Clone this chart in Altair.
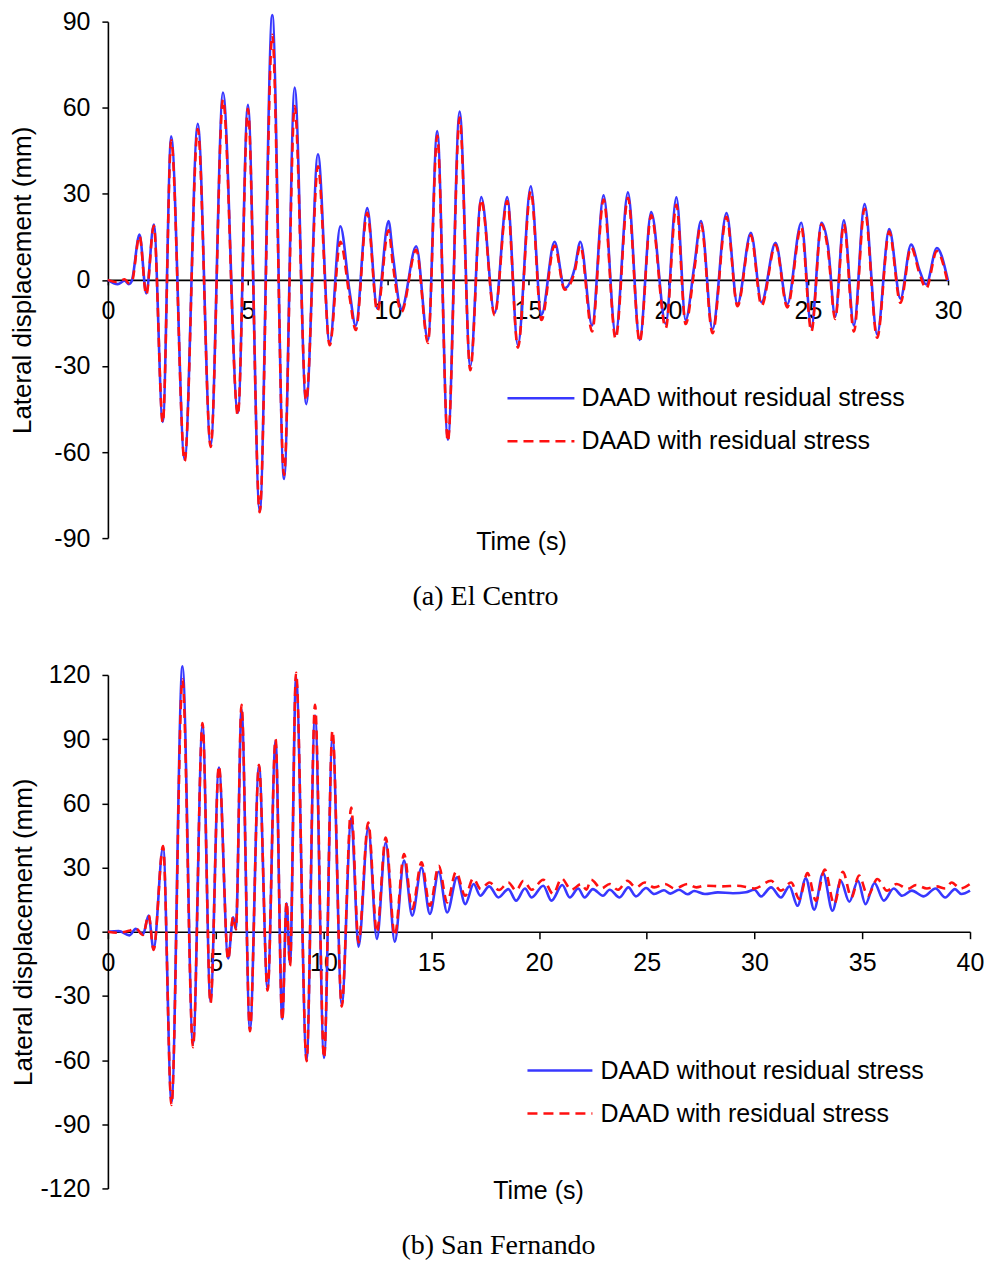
import altair as alt
import pandas as pd

# ---------------- data ----------------
# (a) El Centro
a_blue_t = [0, 0.35, 0.6, 0.75, 0.85, 1.13, 1.37, 1.64, 1.96, 2.26, 2.74, 3.21, 3.67, 4.11, 4.64, 5.0,
            5.42, 5.87, 6.29, 6.67, 7.08, 7.5, 7.92, 8.3, 8.63, 8.85, 9.26, 9.62, 10.02, 10.18, 10.48,
            11.01, 11.43, 11.76, 12.14, 12.56, 12.94, 13.33, 13.81, 14.26, 14.64, 15.1, 15.48, 15.95,
            16.31, 16.67, 16.87, 17.29, 17.7, 18.13, 18.57, 18.99, 19.4, 19.92, 20.3, 20.63, 20.94,
            21.18, 21.59, 22.09, 22.48, 22.96, 23.34, 23.84, 24.26, 24.76, 25.12, 25.48, 25.71, 25.97,
            26.28, 26.64, 27.02, 27.47, 27.9, 28.3, 28.68, 28.98, 29.22, 29.6, 30.0]
a_blue_v = [0, -1.5, -0.3, -1.5, -0.5, 15.8, -4.7, 19.3, -49.5, 50, -62.6, 54.4, -57.6, 65.3, -46.4, 61,
            -80.6, 92.3, -69.4, 67, -43.3, 43.8, -22.1, 18.7, -4, -16, 25, -10, 20.5, 8.3, -10.3,
            11.7, -20.9, 51.9, -55.7, 58.7, -30.2, 28.9, -11.6, 28.9, -22.8, 32.6, -12.2, 13.3,
            -2.9, 4, 13.3, -15.9, 29.5, -19, 30.5, -20.9, 23.6, -15.3, 28.8, -14, 5,
            20.5, -17.2, 23.3, -8.5, 16.4, -7.8, 12.9, -8.5, 19.9, -16.5, 19.9, 12, -12.8,
            20.8, -15.9, 26.4, -19, 17.7, -6.6, 12.3, 3.4, -1.6, 11.1, -0.4]
a_red_t = a_blue_t
a_red_v = [0, -0.8, 0.2, -1.2, -0.8, 15.3, -5.2, 18.8, -49.8, 48.6, -63.2, 52.6, -58.2, 62.8, -47.2, 59.6,
           -81.0, 85.4, -68.0, 60.6, -42.0, 39.6, -22.8, 13.3, -6, -17.5, 23.4, -11, 17.3, 5, -11.2,
           10.5, -22.0, 50.2, -56.3, 56.6, -31.5, 28.0, -12.3, 27.5, -23.6, 31.0, -14.0, 12.0,
           -3.4, 3, 12.0, -18.0, 28.0, -20.5, 28.6, -21.6, 22.5, -16.8, 26.2, -15.4, 3.5,
           19.5, -18.6, 22.0, -9.2, 15.5, -9.0, 12.2, -9.6, 18.5, -18.0, 19.4, 10.5, -13.6,
           19.5, -18.0, 24.8, -20.2, 16.8, -8.0, 11.4, 2.2, -3.0, 10.0, -1.6]

# (b) San Fernando
b_blue_t = [0, 0.5, 1.0, 1.29, 1.63, 1.89, 2.12, 2.56, 2.95, 3.46, 3.95, 4.39, 4.76, 5.15, 5.58, 5.81,
            5.94, 6.2, 6.59, 7.01, 7.41, 7.78, 8.09, 8.29, 8.45, 8.73, 9.22, 9.61, 10.03, 10.42, 10.85,
            11.29, 11.63, 12.08, 12.48, 12.89, 13.31, 13.74, 14.12, 14.55, 14.94, 15.35, 15.74, 16.2,
            16.58, 16.97, 17.28, 17.69, 18.12, 18.58, 18.94, 19.35, 19.66, 20.2, 20.58, 21.08, 21.43,
            21.82, 22.12, 22.5, 22.97, 23.28, 23.74, 24.15, 24.5, 24.97, 25.35, 25.8, 26.1, 26.5, 26.9,
            27.2, 27.7, 28.3, 29.0, 29.6, 30.0, 30.3, 30.77, 31.23, 31.62, 32.0, 32.38, 32.77, 33.18,
            33.62, 34.0, 34.4, 34.8, 35.15, 35.57, 36.0, 36.46, 36.85, 37.3, 37.85, 38.4, 38.85, 39.3,
            39.6, 40.0]
b_blue_v = [0, 0.3, -1.7, 1.3, -1.2, 7.5, -8.3, 39.5, -79.5, 124, -52.5, 96.7, -32.5, 76.7, -12.5, 6.7,
            1.7, 104, -45.8, 77.5, -26.7, 89.2, -40.8, 13.3, -15, 119, -60, 101, -59, 91, -34,
            53, -7, 48.8, -3.4, 41.7, -4.7, 33.2, 7.5, 30, 8.3, 28, 9, 25.4,
            12.9, 22.3, 16.8, 21.2, 16, 19.9, 14.5, 20.2, 16, 21.5, 14.5, 21.8, 16,
            20.2, 16, 19.9, 16.8, 19.6, 16, 20.7, 16.5, 20.4, 17.6, 19.4, 17.8, 19.6, 17.5,
            19, 17.6, 18.4, 18.0, 18.4, 19.6, 16.5, 20.7, 16, 21.2, 12.1, 24.9, 10.3, 27.4,
            9.8, 23.8, 14, 23.8, 12.9, 22.7, 14.5, 20.2, 16.8, 19.2, 16.5, 20.2, 16, 19.9,
            17.6, 19.2]
b_red_t = [0, 0.5, 1.0, 1.29, 1.63, 1.89, 2.12, 2.56, 2.95, 3.46, 3.95, 4.39, 4.76, 5.15, 5.58, 5.81,
           5.94, 6.2, 6.59, 7.01, 7.41, 7.78, 8.09, 8.29, 8.45, 8.73, 9.22, 9.61, 10.03, 10.42, 10.85,
           11.29, 11.63, 12.08, 12.48, 12.89, 13.31, 13.74, 14.12, 14.55, 14.94, 15.35, 15.74, 16.15,
           16.58, 16.95, 17.3, 17.7, 18.15, 18.58, 18.94, 19.28, 19.66, 20.2, 20.66, 21.05, 21.5,
           21.97, 22.2, 22.42, 22.89, 23.28, 23.66, 24.1, 24.5, 24.9, 25.35, 25.85, 26.3, 26.9, 27.3,
           27.7, 28.5, 29.2, 30.0, 30.77, 31.23, 31.7, 32.08, 32.46, 32.85, 33.26, 33.7, 34.1, 34.5,
           34.85, 35.26, 35.7, 36.15, 36.6, 37.1, 37.5, 38.0, 38.45, 38.85, 39.15, 39.55, 40.0]
b_red_v = [0, -0.5, 0.5, 1.5, -1.5, 7.8, -8.5, 40, -81, 118, -54, 97.5, -33.5, 77.5, -13, 7,
           1, 106, -46.5, 78, -27.5, 90, -41.5, 14, -16, 121, -60.5, 106, -59, 94, -35,
           58, -5, 51, -0.3, 44, -1.9, 36.3, 10.6, 32.4, 12.1, 30.8, 13.7, 28,
           16.8, 24.9, 19.9, 23, 19.5, 23, 19.2, 23.8, 19.6, 24.3, 17.6, 24.9, 19.6,
           22.3, 19.6, 24.3, 20.2, 22.3, 19.6, 23.8, 20.7, 23, 20.7, 22.3, 20.2, 22.3, 20.7,
           21.5, 21.2, 21.5, 20.2, 23.8, 19.2, 23, 15.3, 27.4, 14.5, 29, 12.9, 28, 16,
           26.2, 16.8, 24.6, 19.2, 22.3, 20, 21.8, 20.2, 21.2, 20.2, 23, 20.2, 22.3]

legend_labels = ["DAAD without residual stress", "DAAD with residual stress"]
x_label = "Time (s)"
y_label = "Lateral displacement (mm)"
captions = ["(a) El Centro", "(b) San Fernando"]

BLUE = "#3838ff"
RED = "#ff1010"
SANS = "Liberation Sans"
SERIF = "Liberation Serif"
FS = 25
PLAIN = "'' + datum.value"


def one(text):
    return alt.Data(values=[{"label": text}])


def panel(bt, bv, rt, rv, xmax, ylim, xticks, yticks, w, h, tick_x, lab_pad_x,
          title_pad, time_xy, cap_xy, leg_x, leg_y, caption):
    xenc = alt.X("t:Q",
                 scale=alt.Scale(domain=[0, xmax], nice=False, zero=False),
                 axis=alt.Axis(values=xticks, orient="bottom", offset=-h / 2, title=None,
                               labelExpr=PLAIN,
                               labelFontSize=FS, labelFont=SANS, labelColor="black",
                               labelPadding=lab_pad_x, labelFlush=False, labelOverlap=False,
                               tickSize=tick_x, tickColor="black", tickWidth=1.5,
                               domainColor="black", domainWidth=1.6, grid=False))
    yenc = alt.Y("v:Q",
                 scale=alt.Scale(domain=[-ylim, ylim], nice=False, zero=False),
                 axis=alt.Axis(values=yticks, title=y_label, titleFont=SANS, titleFontSize=26,
                               titleFontWeight="normal", titleColor="black", titlePadding=title_pad,
                               labelExpr=PLAIN,
                               labelFontSize=FS, labelFont=SANS, labelColor="black",
                               labelPadding=12, labelOverlap=False, labelFlush=False,
                               tickSize=6, tickColor="black", tickWidth=1.5,
                               domainColor="black", domainWidth=1.6, grid=False))
    blue = alt.Chart(pd.DataFrame({"t": bt, "v": bv})).mark_line(
        color=BLUE, strokeWidth=2.6, interpolate="monotone").encode(x=xenc, y=yenc)
    red = alt.Chart(pd.DataFrame({"t": rt, "v": rv})).mark_line(
        color=RED, strokeWidth=2.6, strokeDash=[9, 6], interpolate="monotone").encode(x=xenc, y=yenc)

    layers = [blue, red]
    # legend (drawn by hand)
    for i, (lab, col, dash) in enumerate(zip(legend_labels, [BLUE, RED], [[1, 0], [10, 6]])):
        yy = leg_y[i]
        layers.append(alt.Chart(one(lab)).mark_rule(color=col, strokeWidth=2.6, strokeDash=dash).encode(
            x=alt.value(leg_x[0]), x2=alt.value(leg_x[1]), y=alt.value(yy)))
        layers.append(alt.Chart(one(lab)).mark_text(
            font=SANS, fontSize=FS, color="black", align="left", baseline="middle").encode(
            text="label:N", x=alt.value(leg_x[2]), y=alt.value(yy)))
    layers.append(alt.Chart(one(x_label)).mark_text(
        font=SANS, fontSize=FS, color="black", align="center", baseline="middle").encode(
        text="label:N", x=alt.value(time_xy[0]), y=alt.value(time_xy[1])))
    layers.append(alt.Chart(one(caption)).mark_text(
        font=SERIF, fontSize=28, color="black", align="center", baseline="middle").encode(
        text="label:N", x=alt.value(cap_xy[0]), y=alt.value(cap_xy[1])))
    return alt.layer(*layers).properties(width=w, height=h)


pa = panel(a_blue_t, a_blue_v, a_red_t, a_red_v, 30, 90, [0, 5, 10, 15, 20, 25, 30],
           [-90, -60, -30, 0, 30, 60, 90], 841, 517, 5, 14, 18,
           (414, 521), (378, 576), (400, 467, 474), (377, 420), captions[0])
pb = panel(b_blue_t, b_blue_v, b_red_t, b_red_v, 40, 120, [0, 5, 10, 15, 20, 25, 30, 35, 40],
           [-120, -90, -60, -30, 0, 30, 60, 90, 120], 863, 514, 7, 12, 3,
           (431, 517), (391, 572), (420, 485, 493), (396, 439), captions[1])

chart = alt.vconcat(pa, pb, spacing=50).properties(
    padding={"left": 1, "top": 1, "right": 0, "bottom": 0}, background="white"
).configure_view(stroke=None)

chart.save("out.html", embed_options={"renderer": "svg", "actions": False})
